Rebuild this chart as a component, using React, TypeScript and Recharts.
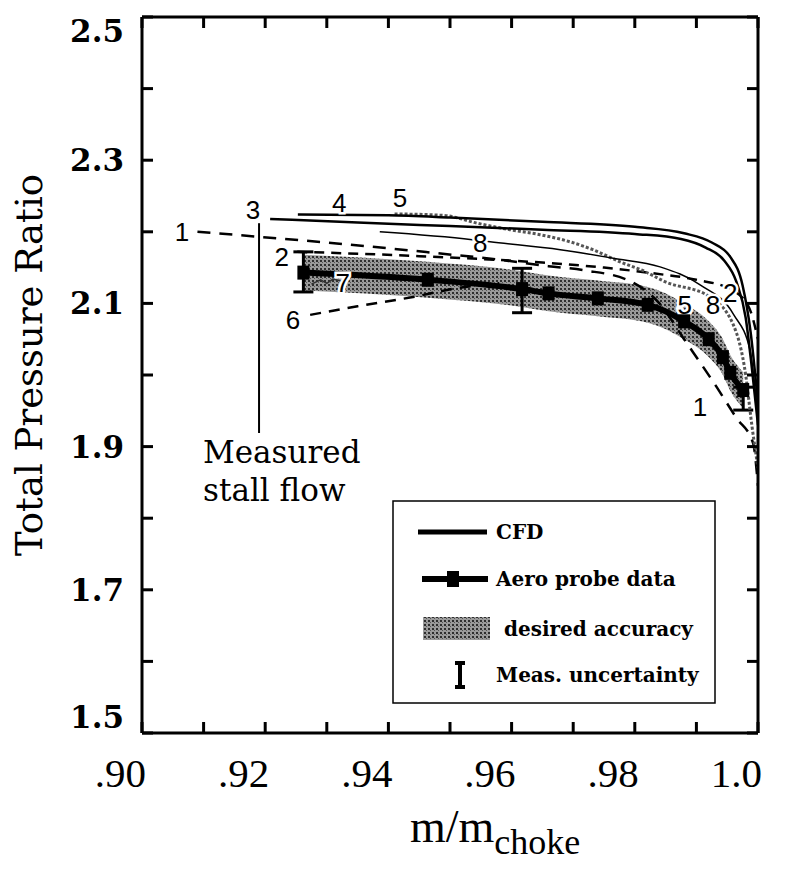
import React from 'react';
import {
  ComposedChart,
  XAxis,
  YAxis,
  Line,
  Area,
  Scatter,
  ErrorBar,
  ReferenceLine,
  ReferenceDot,
  Legend,
} from 'recharts';

// axis ticks
const xTicks = [0.9, 0.91, 0.92, 0.93, 0.94, 0.95, 0.96, 0.97, 0.98, 0.99, 1.0];
const xTickText = ['.90', '', '.92', '', '.94', '', '.96', '', '.98', '', '1.0'];
const yTicks = [1.5, 1.6, 1.7, 1.8, 1.9, 2.0, 2.1, 2.2, 2.3, 2.4, 2.5];
const yTickText = ['1.5', '', '1.7', '', '1.9', '', '2.1', '', '2.3', '', '2.5'];

// CFD curves (1..8)
const line1X = [0.909, 0.919, 0.93, 0.94, 0.948, 0.957, 0.966, 0.972, 0.979, 0.984, 0.988, 0.9933, 0.9965, 0.9992, 1.0];
const line1Y = [2.2, 2.193, 2.185, 2.177, 2.17, 2.162, 2.152, 2.146, 2.132, 2.1, 2.05, 1.983, 1.94, 1.905, 1.845];
const line2X = [0.9252, 0.933, 0.945, 0.955, 0.965, 0.975, 0.983, 0.99, 0.9955, 0.9985, 1.0];
const line2Y = [2.172, 2.17, 2.166, 2.162, 2.157, 2.15, 2.142, 2.133, 2.12, 2.095, 2.05];
const line3X = [0.9208, 0.935, 0.95, 0.965, 0.98, 0.9875, 0.9915, 0.9945, 0.9965, 0.998, 0.999, 1.0];
const line3Y = [2.218, 2.213, 2.208, 2.203, 2.197, 2.19, 2.178, 2.16, 2.13, 2.08, 2.01, 1.93];
const line4X = [0.9253, 0.94, 0.95, 0.965, 0.98, 0.988, 0.9925, 0.9955, 0.9975, 0.9988, 1.0];
const line4Y = [2.224, 2.223, 2.22, 2.214, 2.207, 2.198, 2.185, 2.165, 2.125, 2.06, 1.96];
const line5X = [0.941, 0.9489, 0.9544, 0.9597, 0.9646, 0.9695, 0.9732, 0.9776, 0.9815, 0.985, 0.992, 0.996, 0.998, 0.999, 1.0];
const line5Y = [2.225, 2.223, 2.212, 2.203, 2.196, 2.186, 2.175, 2.158, 2.145, 2.13, 2.11, 2.07, 2.0, 1.93, 1.87];
const line6X = [0.9273, 0.935, 0.944, 0.951, 0.958];
const line6Y = [2.084, 2.096, 2.109, 2.121, 2.128];
const line7X = [0.9275, 0.929, 0.93, 0.931, 0.9325];
const line7Y = [2.127, 2.133, 2.128, 2.134, 2.131];
const line8X = [0.9386, 0.9536, 0.9565, 0.9679, 0.9765, 0.9841, 0.9906, 0.996, 0.9987, 1.0];
const line8Y = [2.2, 2.189, 2.186, 2.175, 2.163, 2.151, 2.126, 2.085, 2.035, 1.94];

// aero probe data + desired accuracy band
const probeX = [0.9262, 0.9464, 0.9617, 0.966, 0.974, 0.9821, 0.988, 0.992, 0.9943, 0.9955, 0.9976];
const probeY = [2.143, 2.133, 2.12, 2.114, 2.107, 2.098, 2.075, 2.05, 2.025, 2.003, 1.979];
const bandHigh = [2.168, 2.158, 2.145, 2.139, 2.132, 2.123, 2.1, 2.075, 2.05, 2.028, 2.004];
const bandLow = [2.118, 2.108, 2.095, 2.089, 2.082, 2.073, 2.05, 2.025, 2.0, 1.978, 1.954];

// measurement uncertainty
const uncX = [0.9262, 0.9617, 0.9976];
const uncY = [2.143, 2.118, 1.967];
const uncLo = [0.027, 0.031, 0.016];
const uncHi = [0.029, 0.031, 0.016];

// measured stall flow
const stallX = 0.919;
const stallTop = 2.212;
const stallBottom = 1.919;

// curve labels
const curveLabels = [
  { t: '1', x: 0.9065, y: 2.2 },
  { t: '3', x: 0.918, y: 2.23 },
  { t: '4', x: 0.932, y: 2.24 },
  { t: '5', x: 0.9419, y: 2.247 },
  { t: '2', x: 0.9227, y: 2.165 },
  { t: '7', x: 0.9326, y: 2.128 },
  { t: '6', x: 0.9245, y: 2.077 },
  { t: '8', x: 0.9549, y: 2.184 },
  { t: '5', x: 0.9881, y: 2.098 },
  { t: '8', x: 0.9927, y: 2.098 },
  { t: '2', x: 0.9955, y: 2.115 },
  { t: '1', x: 0.9906, y: 1.955 },
];

const pts = (xs: number[], ys: number[]) => xs.map((x, i) => ({ x, y: ys[i] }));
const bandData = probeX.map((x, i) => ({ x, band: [bandLow[i], bandHigh[i]] }));
const uncData = uncX.map((x, i) => ({ x, y: uncY[i], err: [uncLo[i], uncHi[i]] }));

const serif = 'DejaVu Serif, serif';
const times = 'Liberation Serif, serif';

const BottomTick = (props: any) => {
  const { x, y, index } = props;
  return (
    <g>
      <line x1={x} y1={y} x2={x} y2={y - 11} stroke="#000" strokeWidth={3} />
      {xTickText[index] && (
        <text x={x + 4} y={y + 54} textAnchor="end" fontFamily={times} fontSize={41} fill="#000">
          {xTickText[index]}
        </text>
      )}
    </g>
  );
};

const TopTick = (props: any) => {
  const { x, y } = props;
  return <line x1={x} y1={y} x2={x} y2={y + 11} stroke="#000" strokeWidth={3} />;
};

const LeftTick = (props: any) => {
  const { x, y, index } = props;
  const label = yTickText[index];
  let dy = 11;
  if (label === '2.5') dy = 25;
  if (label === '1.5') dy = -5;
  return (
    <g>
      <line x1={x} y1={y} x2={x + 11} y2={y} stroke="#000" strokeWidth={3} />
      {label && (
        <text x={x - 18} y={y + dy} textAnchor="end" fontFamily={serif} fontWeight="bold" fontSize={31} fill="#000">
          {label}
        </text>
      )}
    </g>
  );
};

const RightTick = (props: any) => {
  const { x, y } = props;
  return <line x1={x} y1={y} x2={x - 11} y2={y} stroke="#000" strokeWidth={3} />;
};

const ProbeDot = (props: any) => {
  const { cx, cy } = props;
  if (cx == null || cy == null) return null;
  return <rect x={cx - 6} y={cy - 7} width={12} height={14} fill="#000" />;
};

const CurveLabel = (t: string) => (props: any) => (
  <text
    x={props.cx}
    y={props.cy + 9}
    textAnchor="middle"
    fontFamily="Liberation Sans, Arial, sans-serif"
    fontSize={26}
    fill="#000"
    stroke="#fff"
    strokeWidth={5}
    paintOrder="stroke"
  >
    {t}
  </text>
);

const legendFont = { fontFamily: serif, fontWeight: 'bold' as const, fontSize: 20, fill: '#000' };

const LegendBox = () => (
  <svg width={324} height={204}>
    <rect x={1} y={1} width={322} height={202} fill="#fff" stroke="#000" strokeWidth={1.5} />
    <line x1={26} y1={32} x2={95} y2={32} stroke="#000" strokeWidth={5} />
    <text x={104} y={39} {...legendFont}>CFD</text>
    <line x1={30} y1={79} x2={96} y2={79} stroke="#000" strokeWidth={6} />
    <rect x={55} y={71} width={12} height={16} fill="#000" />
    <text x={104} y={86} {...legendFont}>Aero probe data</text>
    <rect x={31} y={117} width={67} height={23} fill="url(#stipple)" />
    <text x={112} y={136} {...legendFont}>desired accuracy</text>
    <line x1={68} y1={163} x2={68} y2={187} stroke="#000" strokeWidth={4} />
    <line x1={63} y1={163} x2={73} y2={163} stroke="#000" strokeWidth={4} />
    <line x1={63} y1={187} x2={73} y2={187} stroke="#000" strokeWidth={4} />
    <text x={104} y={182} {...legendFont}>Meas. uncertainty</text>
  </svg>
);

export default function App() {
  return (
    <div style={{ position: 'absolute', left: 0, top: 0, background: '#fff' }}>
      <style>{'body{margin:0;background:#fff}'}</style>
      <svg width={0} height={0} style={{ position: 'absolute' }}>
        <defs>
          <pattern id="stipple" width={4} height={4} patternUnits="userSpaceOnUse">
            <rect width={4} height={4} fill="#9a9a9a" />
            <rect width={2} height={2} fill="#2e2e2e" />
            <rect x={2} y={2} width={1} height={1} fill="#555" />
          </pattern>
        </defs>
      </svg>
      <ComposedChart width={787} height={872} margin={{ top: 0, right: 0, bottom: 0, left: 0 }}>
        <XAxis
          dataKey="x"
          type="number"
          domain={[0.9, 1.0]}
          ticks={xTicks}
          interval={0}
          height={139}
          tickSize={0}
          tickMargin={0}
          tick={BottomTick}
          axisLine={{ stroke: '#000', strokeWidth: 3 }}
          allowDataOverflow
          label={{
            content: () => (
              <text x={410} y={842} fontFamily={times} fontSize={46} fill="#000">
                m/m
                <tspan fontSize={36} dy={12}>choke</tspan>
              </text>
            ),
          }}
        />
        <XAxis
          xAxisId="t"
          orientation="top"
          dataKey="x"
          type="number"
          domain={[0.9, 1.0]}
          ticks={xTicks}
          interval={0}
          height={17}
          tickSize={0}
          tickMargin={0}
          tick={TopTick}
          axisLine={{ stroke: '#000', strokeWidth: 3 }}
          allowDataOverflow
        />
        <YAxis
          dataKey="y"
          type="number"
          domain={[1.5, 2.5]}
          ticks={yTicks}
          interval={0}
          width={142}
          tickSize={0}
          tickMargin={0}
          tick={LeftTick}
          axisLine={{ stroke: '#000', strokeWidth: 3 }}
          allowDataOverflow
          label={{
            content: () => (
              <text
                transform="translate(42,365) rotate(-90)"
                textAnchor="middle"
                fontFamily={serif}
                fontSize={37}
                fill="#000"
              >
                Total Pressure Ratio
              </text>
            ),
          }}
        />
        <YAxis
          yAxisId="r"
          orientation="right"
          type="number"
          domain={[1.5, 2.5]}
          ticks={yTicks}
          interval={0}
          width={29}
          tickSize={0}
          tickMargin={0}
          tick={RightTick}
          axisLine={{ stroke: '#000', strokeWidth: 3 }}
          allowDataOverflow
        />

        <Area
          data={bandData}
          dataKey="band"
          type="monotone"
          fill="url(#stipple)"
          fillOpacity={1}
          stroke="none"
          isAnimationActive={false}
        />
        <Line data={pts(probeX, probeY)} dataKey="y" type="monotone" stroke="#000" strokeWidth={6} dot={ProbeDot} isAnimationActive={false} />
        <Scatter data={uncData} dataKey="y" shape={() => <g />} isAnimationActive={false}>
          <ErrorBar dataKey="err" direction="y" width={10} strokeWidth={3} stroke="#000" />
        </Scatter>

        <Line data={pts(line6X, line6Y)} dataKey="y" type="monotone" stroke="#000" strokeWidth={2.5} strokeDasharray="11 8" dot={false} isAnimationActive={false} />
        <Line data={pts(line7X, line7Y)} dataKey="y" type="linear" stroke="#333" strokeWidth={1.5} dot={false} isAnimationActive={false} />
        <Line data={pts(line2X, line2Y)} dataKey="y" type="monotone" stroke="#000" strokeWidth={2.5} strokeDasharray="10 7" dot={false} isAnimationActive={false} />
        <Line data={pts(line1X, line1Y)} dataKey="y" type="monotone" stroke="#000" strokeWidth={2.5} strokeDasharray="13 9" dot={false} isAnimationActive={false} />
        <Line data={pts(line5X, line5Y)} dataKey="y" type="monotone" stroke="#555" strokeWidth={3} strokeDasharray="3 2" dot={false} isAnimationActive={false} />
        <Line data={pts(line8X, line8Y)} dataKey="y" type="monotone" stroke="#000" strokeWidth={1.5} dot={false} isAnimationActive={false} />
        <Line data={pts(line3X, line3Y)} dataKey="y" type="monotone" stroke="#000" strokeWidth={2.5} dot={false} isAnimationActive={false} />
        <Line data={pts(line4X, line4Y)} dataKey="y" type="monotone" stroke="#000" strokeWidth={2.5} dot={false} isAnimationActive={false} />

        <ReferenceLine
          segment={[{ x: stallX, y: stallTop }, { x: stallX, y: stallBottom }]}
          stroke="#000"
          strokeWidth={2}
        />
        <ReferenceDot
          x={stallX}
          y={stallBottom}
          r={0}
          shape={(p: any) => (
            <text x={p.cx - 56} y={p.cy + 30} fontFamily={serif} fontSize={31} fill="#000">
              <tspan x={p.cx - 56}>Measured</tspan>
              <tspan x={p.cx - 56} dy={38}>stall flow</tspan>
            </text>
          )}
        />
        {curveLabels.map((c, i) => (
          <ReferenceDot key={i} x={c.x} y={c.y} r={0} shape={CurveLabel(c.t)} />
        ))}

        <Legend
          layout="horizontal"
          verticalAlign="middle"
          align="center"
          content={LegendBox}
          wrapperStyle={{ position: 'absolute', left: 392, top: 500, width: 324, height: 204 }}
        />
      </ComposedChart>
    </div>
  );
}
